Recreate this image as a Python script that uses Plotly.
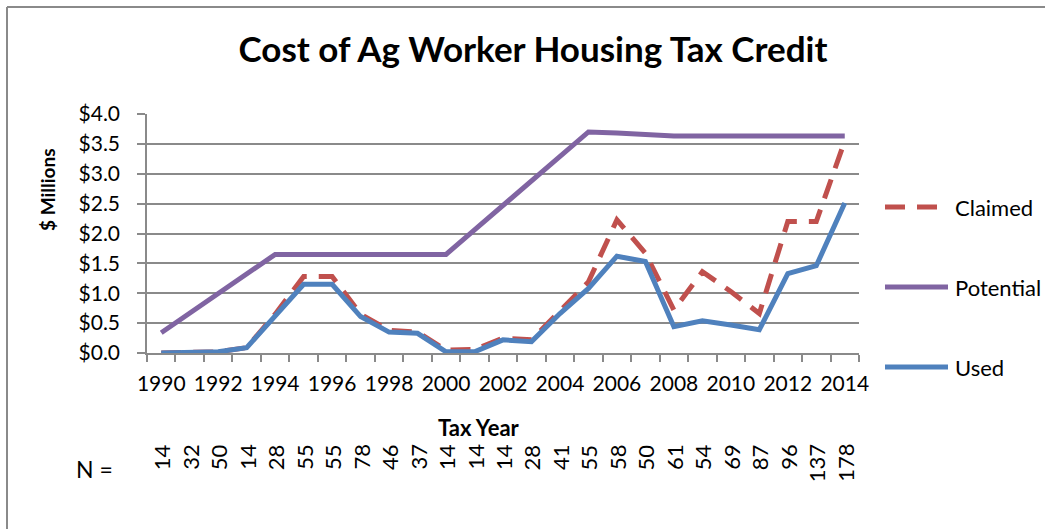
import plotly.graph_objects as go

years = list(range(1990, 2015))
claimed = [0.0, 0.0, 0.02, 0.09, 0.65, 1.28, 1.28, 0.65, 0.38, 0.35, 0.05, 0.06, 0.25, 0.22,
           0.72, 1.19, 2.23, 1.67, 0.72, 1.36, 1.03, 0.66, 2.20, 2.20, 3.55]
potential = [0.34, 0.67, 1.00, 1.32, 1.65, 1.65, 1.65, 1.65, 1.65, 1.65, 1.65, 2.06, 2.47, 2.88,
             3.29, 3.70, 3.68, 3.65, 3.63, 3.63, 3.63, 3.63, 3.63, 3.63, 3.63]
used = [0.0, 0.0, 0.02, 0.09, 0.62, 1.15, 1.15, 0.61, 0.35, 0.33, 0.02, 0.02, 0.22, 0.19,
        0.66, 1.08, 1.62, 1.53, 0.44, 0.54, 0.47, 0.39, 1.33, 1.46, 2.51]
n_counts = [14, 32, 50, 14, 28, 55, 55, 78, 46, 37, 14, 14, 14, 28, 41, 55, 58, 50, 61, 54,
            69, 87, 96, 137, 178]
series_names = ["Claimed", "Potential", "Used"]
series_colors = ["#C0504D", "#8064A2", "#4F81BD"]
series_dash = ["20px,12px", "solid", "solid"]

W, H = 1045, 529
L, R, T, B = 147, 859, 114, 353  # plot area in pixels
FONT = "Lato"
GRID = "#8a8a8a"
LW = 5


def px(x):
    return (x - L) / (R - L)


def py(y):
    return (B - y) / (B - T)


fig = go.Figure()
for name, vals, col, dash in zip(series_names, [claimed, potential, used], series_colors, series_dash):
    fig.add_trace(go.Scatter(x=years, y=vals, mode="lines", name=name,
                             line=dict(color=col, width=LW, dash=dash),
                             showlegend=False))

annotations = []
# N row
for yr, n in zip(years, n_counts):
    annotations.append(dict(x=yr, xref="x", y=py(442), yref="paper", text=str(n),
                            textangle=-90, showarrow=False, xanchor="center", yanchor="top",
                            font=dict(family=FONT, size=22, color="black")))
annotations.append(dict(x=px(94), xref="paper", y=py(469), yref="paper", text="N =",
                        showarrow=False, xanchor="center", yanchor="middle",
                        font=dict(family=FONT, size=23, color="black")))
annotations.append(dict(x=px(479), xref="paper", y=py(427), yref="paper", text="<b>Tax Year</b>",
                        showarrow=False, xanchor="center", yanchor="middle",
                        font=dict(family=FONT, size=22, color="black")))
annotations.append(dict(x=px(47), xref="paper", y=py(190), yref="paper", text="<b>$ Millions</b>",
                        textangle=-90, showarrow=False, xanchor="center", yanchor="middle",
                        font=dict(family=FONT, size=19, color="black")))

# manual legend
shapes = []
leg_y = [207, 287, 367]
for name, col, dash, ly in zip(series_names, series_colors, series_dash, leg_y):
    shapes.append(dict(type="line", xref="paper", yref="paper", x0=px(885), x1=px(948),
                       y0=py(ly), y1=py(ly), line=dict(color=col, width=LW, dash=dash)))
    annotations.append(dict(x=px(953), xref="paper", y=py(ly), yref="paper", text=name,
                            showarrow=False, xanchor="left", yanchor="middle",
                            font=dict(family=FONT, size=22, color="black")))

# chart-area border (left and top edges visible)
shapes.append(dict(type="line", xref="paper", yref="paper", x0=px(7), x1=px(7),
                   y0=py(7), y1=py(560), line=dict(color="#8a8a8a", width=2)))
shapes.append(dict(type="line", xref="paper", yref="paper", x0=px(7), x1=px(1060),
                   y0=py(7), y1=py(7), line=dict(color="#8a8a8a", width=2)))

fig.update_layout(
    width=W, height=H,
    margin=dict(l=L, r=W - R, t=T, b=H - B, pad=0),
    paper_bgcolor="white", plot_bgcolor="white",
    title=dict(text="<b>Cost of Ag Worker Housing Tax Credit</b>", x=533 / W, xanchor="center",
               y=1 - 50 / H, yanchor="middle", yref="container",
               font=dict(family=FONT, size=35, color="black")),
    font=dict(family=FONT, color="black"),
    annotations=annotations,
    shapes=shapes,
    showlegend=False,
)

fig.update_xaxes(
    range=[years[0] - 0.5, years[-1] + 0.5],
    tickmode="array", tickvals=years[::2], ticktext=[str(y) for y in years[::2]],
    ticks="", showgrid=False, zeroline=False,
    showline=True, linecolor=GRID, linewidth=1.5,
    tickfont=dict(family=FONT, size=21, color="black"),
    ticklabelstandoff=11,
    minor=dict(tickmode="array", tickvals=[y - 0.5 for y in years] + [years[-1] + 0.5],
               ticks="outside", ticklen=7, tickcolor=GRID, tickwidth=1.5, showgrid=False),
)
fig.update_yaxes(
    range=[0, 4], dtick=0.5, tick0=0, tickformat="$.1f",
    showgrid=True, gridcolor=GRID, gridwidth=1.5, zeroline=False,
    showline=True, linecolor=GRID, linewidth=1.5,
    ticks="outside", ticklen=8, tickcolor=GRID, tickwidth=1.5,
    tickfont=dict(family=FONT, size=21, color="black"),
    ticklabelstandoff=13,
)

fig.write_html("out.html", config={"displayModeBar": False},
               post_script="document.body.style.margin='0';")
